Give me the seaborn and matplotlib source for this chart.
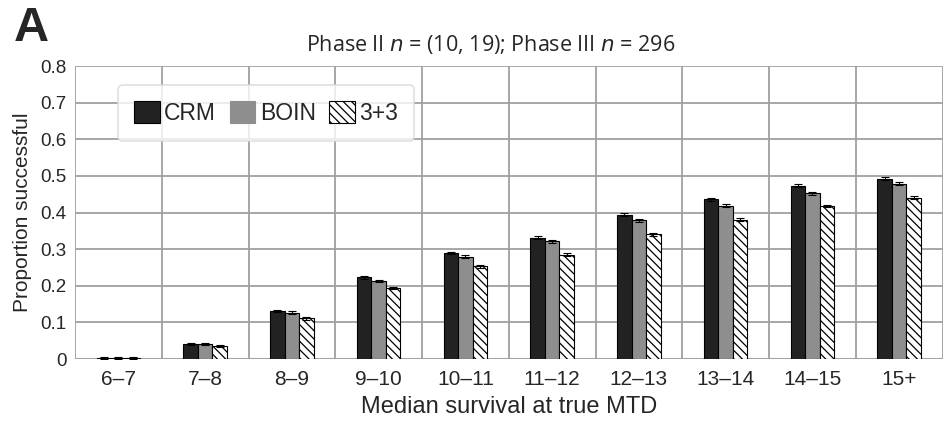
import numpy as np
import pandas as pd
import seaborn as sns
from matplotlib import pyplot as plt
from matplotlib.patches import Patch

sns.set_style('whitegrid')
plt.rcParams['font.family'] = ['Liberation Sans', 'DejaVu Sans']
plt.rcParams['hatch.linewidth'] = 0.9

# values
groups = ['6–7', '7–8', '8–9', '9–10', '10–11', '11–12', '12–13', '13–14', '14–15', '15+']
methods = ['CRM', 'BOIN', '3+3']
crm = [0.003, 0.041, 0.131, 0.223, 0.290, 0.331, 0.394, 0.436, 0.473, 0.493]
boin = [0.003, 0.042, 0.127, 0.213, 0.280, 0.322, 0.379, 0.419, 0.453, 0.479]
three = [0.002, 0.035, 0.111, 0.195, 0.253, 0.285, 0.341, 0.381, 0.418, 0.441]
err = [0.003, 0.003, 0.003, 0.003, 0.003, 0.004, 0.004, 0.004, 0.004, 0.004]

df = pd.DataFrame({
    'group': groups * 3,
    'method': np.repeat(methods, len(groups)),
    'value': crm + boin + three,
})

fig = plt.figure(figsize=(9.45, 4.21), dpi=100)
ax = fig.add_axes([0.0794, 0.147, 0.918, 0.696])

sns.barplot(data=df, x='group', y='value', hue='method', order=groups, hue_order=methods,
            palette=['#222222', '#8e8e8e', 'white'], width=0.5, gap=0,
            edgecolor='black', linewidth=0.8, errorbar=None, legend=False, ax=ax)

for bar in ax.containers[2]:
    bar.set_hatch('\\\\\\\\')

# small error bars on top of every bar
for cont, vals in zip(ax.containers, [crm, boin, three]):
    xs = [p.get_x() + p.get_width() / 2 for p in cont.patches]
    ax.errorbar(xs, vals, yerr=err, fmt='none', ecolor='black', elinewidth=0.8,
                capsize=3, capthick=0.8, zorder=5)

ax.set_ylim(0, 0.8)
ax.set_xlim(-0.5, len(groups) - 0.5)
ax.set_yticks(np.arange(0, 0.81, 0.1))
ax.set_yticklabels(['0'] + ['%.1f' % v for v in np.arange(0.1, 0.81, 0.1)])
ax.set_xticks(np.arange(len(groups) + 1) - 0.5, minor=True)
ax.xaxis.grid(False, which='major')
ax.xaxis.grid(True, which='minor', color='#a0a0a0', lw=1.3)
ax.yaxis.grid(True, color='#a0a0a0', lw=1.3)
ax.set_axisbelow(True)
ax.tick_params(axis='x', which='both', length=0, labelsize=15, pad=8)
ax.tick_params(axis='y', which='both', length=0, labelsize=13.5, pad=6)
for s in ax.spines.values():
    s.set_visible(False)
ax.axhline(0, color='#d0d0d0', lw=1.5, zorder=0.5)

ax.set_xlabel('Median survival at true MTD', fontsize=17, labelpad=5)
ax.set_ylabel('Proportion successful', fontsize=15, labelpad=6)

handles = [Patch(facecolor='#222222', edgecolor='black', lw=0.8),
           Patch(facecolor='#8e8e8e', edgecolor='#8e8e8e', lw=0.8),
           Patch(facecolor='white', edgecolor='black', lw=0.8, hatch='\\\\\\\\')]
leg = ax.legend(handles, methods, ncol=3, loc='upper left', bbox_to_anchor=(0.05, 0.935),
                fontsize=16.5, handlelength=1.1, handleheight=1.1, handletextpad=0.2,
                columnspacing=0.6, borderpad=0.7, borderaxespad=0, frameon=True, fancybox=True)
leg.get_frame().set_edgecolor('#d8d8d8')
leg.get_frame().set_linewidth(1.2)

fig.text(0.519, 0.895, 'Phase II $\\it{n}$ = (10, 19); Phase III $\\it{n}$ = 296',
         ha='center', va='center', fontsize=15.5, family=['Open Sans', 'DejaVu Sans'])
fig.text(0.015, 0.933, 'A', fontsize=35, fontweight='bold', ha='left', va='center')

fig.savefig('out.png', dpi=100)
